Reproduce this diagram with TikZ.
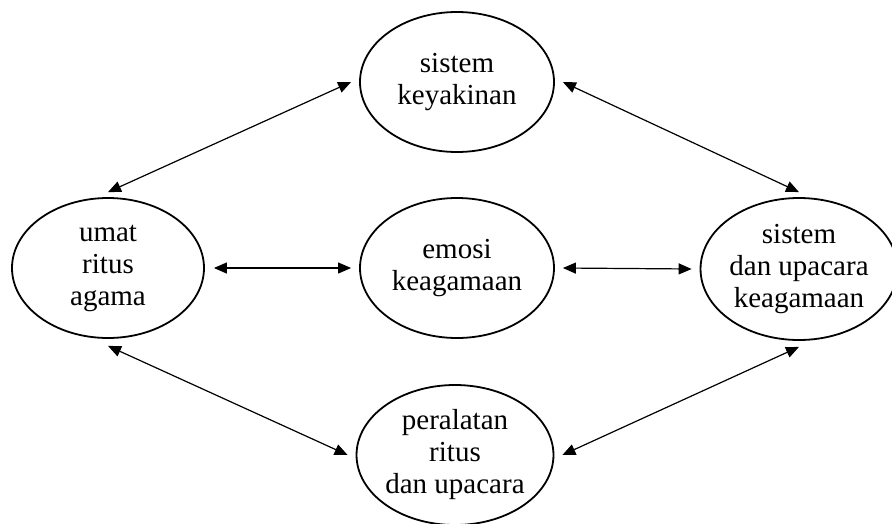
\documentclass[tikz,border=0pt]{standalone}
\usepackage{fontspec}
\setmainfont{Liberation Serif}
\usetikzlibrary{shapes.geometric,arrows.meta}
\tikzset{
  oval/.style={draw, ellipse, line width=1.8pt, inner sep=0pt, align=center,
    font=\fontsize{29}{32}\selectfont},
  link/.style={line width=1.2pt, {Triangle[length=13pt,width=11pt]}-{Triangle[length=13pt,width=11pt]}}
}
\begin{document}
\begin{tikzpicture}[x=1pt,y=-1pt]
\useasboundingbox (0,0) rectangle (892,523);
\node[oval, minimum width=194pt, minimum height=140pt] (T) at (457,82) {sistem\\keyakinan};
\node[oval, minimum width=192pt, minimum height=140pt] (L) at (108,268) {umat\\ritus\\agama};
\node[oval, minimum width=194pt, minimum height=140pt] (C) at (457,268) {emosi\\keagamaan};
\node[oval, minimum width=184pt, minimum height=142pt] (R) at (799,269) {sistem\\dan upacara\\keagamaan};
\node[oval, minimum width=190pt, minimum height=140pt] (B) at (455,455) {peralatan\\ritus\\dan upacara};
\draw[link] ([yshift=5pt]L.north) -- ([xshift=-8pt]T.west);
\draw[link] ([xshift=8pt]T.east) -- ([yshift=5pt]R.north);
\draw[link] ([xshift=9pt]L.east) -- ([xshift=-8pt]C.west);
\draw[link] ([xshift=8pt]C.east) -- ([xshift=-8pt]R.west);
\draw[link] ([yshift=-7pt]L.south) -- ([xshift=-8pt]B.west);
\draw[link] ([xshift=8pt]B.east) -- ([yshift=-6pt]R.south);
\end{tikzpicture}
\end{document}
